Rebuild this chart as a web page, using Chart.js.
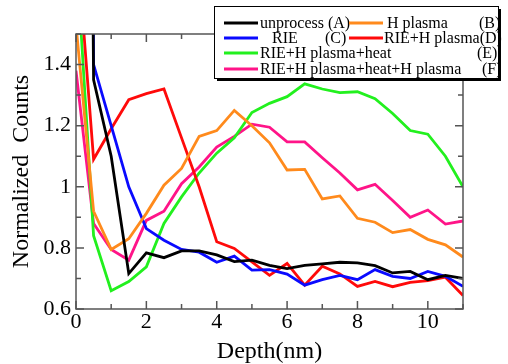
<!DOCTYPE html>
<html>
<head>
<meta charset="utf-8">
<script src="https://cdn.jsdelivr.net/npm/chart.js@4"></script>
<style>
  body { margin: 0; background: #fff; }
  #wrap { width: 508px; height: 364px; }
</style>
</head>
<body>
<div id="wrap"><canvas id="depthChart" width="508" height="364"></canvas></div>
<script>
// depth (nm) of each sample point
var depth = [0, 0.5, 1, 1.5, 2, 2.5, 3, 3.5, 4, 4.5, 5, 5.5, 6, 6.5, 7, 7.5, 8, 8.5, 9, 9.5, 10, 10.5, 11];

// normalized counts (first points run off the top)
var unprocessA = [8, 1.35, 1.10, 0.716, 0.784, 0.768, 0.79, 0.79, 0.777, 0.755, 0.76, 0.743, 0.732, 0.743, 0.748, 0.753, 0.751, 0.742, 0.718, 0.723, 0.696, 0.71, 0.70];
var hPlasmaB = [1.53, 0.92, 0.795, 0.83, 0.913, 1.005, 1.06, 1.165, 1.184, 1.25, 1.20, 1.144, 1.055, 1.057, 0.96, 0.97, 0.897, 0.884, 0.85, 0.86, 0.828, 0.81, 0.77];
var rieC = [10, 1.40, 1.20, 1.0, 0.863, 0.825, 0.795, 0.786, 0.753, 0.773, 0.727, 0.729, 0.714, 0.678, 0.696, 0.71, 0.696, 0.729, 0.707, 0.70, 0.723, 0.707, 0.674];
var rieHD = [1.84, 1.09, 1.19, 1.285, 1.305, 1.32, 1.16, 1.0, 0.82, 0.798, 0.754, 0.71, 0.749, 0.678, 0.74, 0.715, 0.674, 0.69, 0.673, 0.687, 0.693, 0.704, 0.644];
var rieHHeatE = [1.78, 0.84, 0.66, 0.69, 0.738, 0.88, 0.967, 1.045, 1.11, 1.16, 1.243, 1.273, 1.295, 1.337, 1.32, 1.308, 1.311, 1.288, 1.24, 1.184, 1.172, 1.10, 1.0];
var rieHHeatHF = [1.38, 0.88, 0.795, 0.76, 0.89, 0.92, 1.01, 1.065, 1.13, 1.165, 1.205, 1.195, 1.147, 1.147, 1.095, 1.045, 0.99, 1.008, 0.955, 0.90, 0.924, 0.878, 0.888];

var seriesNames = ["unprocess (A)", "H plasma", "RIE", "RIE+H plasma(D)", "RIE+H plasma+heat", "RIE+H plasma+heat+H plasma"];
var seriesTags = ["", "(B)", "(C)", "", "(E)", "(F)"];
var seriesColors = ["#000000", "#ff8a1c", "#0a0aff", "#ff0a0a", "#22f01e", "#ff1488"];

var xTickLabels = ["0", "2", "4", "6", "8", "10"];
var yTickLabels = ["0.6", "0.8", "1", "1.2", "1.4"];

var serif = "'Liberation Serif', 'Times New Roman', serif";

function pts(ys) {
    return ys.map(function(v, i){ return {x: depth[i], y: v}; });
}
function findLabel(list, value) {
    for (var i = 0; i < list.length; i++) {
        if (Math.abs(parseFloat(list[i]) - value) < 1e-6) return list[i];
    }
    return "";
}

var allSeries = [unprocessA, hPlasmaB, rieC, rieHD, rieHHeatE, rieHHeatHF];
var datasets = allSeries.map(function(ys, i){
    return {
        label: seriesNames[i],
        data: pts(ys),
        borderColor: seriesColors[i],
        backgroundColor: seriesColors[i],
        borderWidth: 2.8,
        pointRadius: 0,
        tension: 0,
        fill: false
    };
});

// frame, inward ticks and the boxed legend
var framePlugin = {
    id: 'frame',
    afterDraw: function(chart){
        var ctx = chart.ctx;
        var a = chart.chartArea;
        ctx.save();
        ctx.strokeStyle = '#555';
        ctx.lineWidth = 1.5;
        ctx.strokeRect(a.left, a.top, a.right - a.left, a.bottom - a.top);

        var xs = chart.scales.x, ys = chart.scales.y;
        ctx.beginPath();
        xs.ticks.forEach(function(t){
            var px = xs.getPixelForValue(t.value);
            var len = findLabel(xTickLabels, t.value) ? 8 : 5;
            ctx.moveTo(px, a.bottom); ctx.lineTo(px, a.bottom - len);
            ctx.moveTo(px, a.top); ctx.lineTo(px, a.top + len);
        });
        ys.ticks.forEach(function(t){
            var py = ys.getPixelForValue(t.value);
            var len = findLabel(yTickLabels, t.value) ? 8 : 5;
            ctx.moveTo(a.left, py); ctx.lineTo(a.left + len, py);
            ctx.moveTo(a.right, py); ctx.lineTo(a.right - len, py);
        });
        ctx.stroke();

        // legend box with shadow
        var bx = 214, by = 6, bw = 284, bh = 72;
        ctx.fillStyle = '#000';
        ctx.fillRect(bx + 3, by + 3, bw, bh);
        ctx.fillStyle = '#fff';
        ctx.fillRect(bx, by, bw, bh);
        ctx.strokeStyle = '#000';
        ctx.lineWidth = 1;
        ctx.strokeRect(bx + 0.5, by + 0.5, bw, bh);

        var spots = [
            {lx: 224, ty: 23, tx: 260, gx: 0},
            {lx: 349, ty: 23, tx: 387, gx: 479},
            {lx: 224, ty: 38, tx: 272, gx: 325},
            {lx: 349, ty: 38, tx: 384, gx: 0},
            {lx: 224, ty: 53, tx: 260, gx: 477},
            {lx: 224, ty: 69, tx: 260, gx: 482}
        ];
        ctx.font = '16px ' + serif;
        ctx.textBaseline = 'middle';
        ctx.textAlign = 'left';
        spots.forEach(function(s, i){
            ctx.strokeStyle = seriesColors[i];
            ctx.lineWidth = 2.8;
            ctx.beginPath();
            ctx.moveTo(s.lx, s.ty); ctx.lineTo(s.lx + 34, s.ty);
            ctx.stroke();
            ctx.fillStyle = '#000';
            ctx.fillText(seriesNames[i], s.tx, s.ty + 1);
            if (seriesTags[i]) ctx.fillText(seriesTags[i], s.gx, s.ty + 1);
        });
        ctx.restore();
    }
};

var target = document.getElementById("depthChart");
var depthChart = new Chart(target, {
    type: 'line',
    data: { datasets: datasets },
    options: {
        responsive: false,
        animation: false,
        devicePixelRatio: 1,
        layout: { padding: { left: 0, right: 45, top: 34, bottom: 0 } },
        plugins: { legend: { display: false }, tooltip: { enabled: false } },
        scales: {
            x: {
                type: 'linear',
                min: 0, max: 11,
                grid: { display: false, drawTicks: false },
                border: { display: false },
                ticks: {
                    stepSize: 1, autoSkip: false, maxRotation: 0, padding: 0,
                    color: '#000',
                    font: { family: serif, size: 22 },
                    callback: function(v){ return findLabel(xTickLabels, v); }
                },
                title: {
                    display: true, text: 'Depth(nm)', color: '#000',
                    font: { family: serif, size: 24, lineHeight: 1 },
                    padding: { top: 0, bottom: 0 }
                },
                afterFit: function(scale){ scale.height = 55; }
            },
            y: {
                min: 0.6, max: 1.5,
                grid: { display: false, drawTicks: false },
                border: { display: false },
                ticks: {
                    stepSize: 0.1, autoSkip: false, padding: 5,
                    color: '#000',
                    font: { family: serif, size: 22 },
                    callback: function(v){ return findLabel(yTickLabels, v); }
                },
                title: {
                    display: true, text: 'Normalized  Counts', color: '#000',
                    font: { family: serif, size: 24, lineHeight: 1 },
                    padding: { top: 10, bottom: 0 }
                },
                afterFit: function(scale){ scale.width = 76; }
            }
        }
    },
    plugins: [framePlugin]
});
</script>
</body>
</html>
